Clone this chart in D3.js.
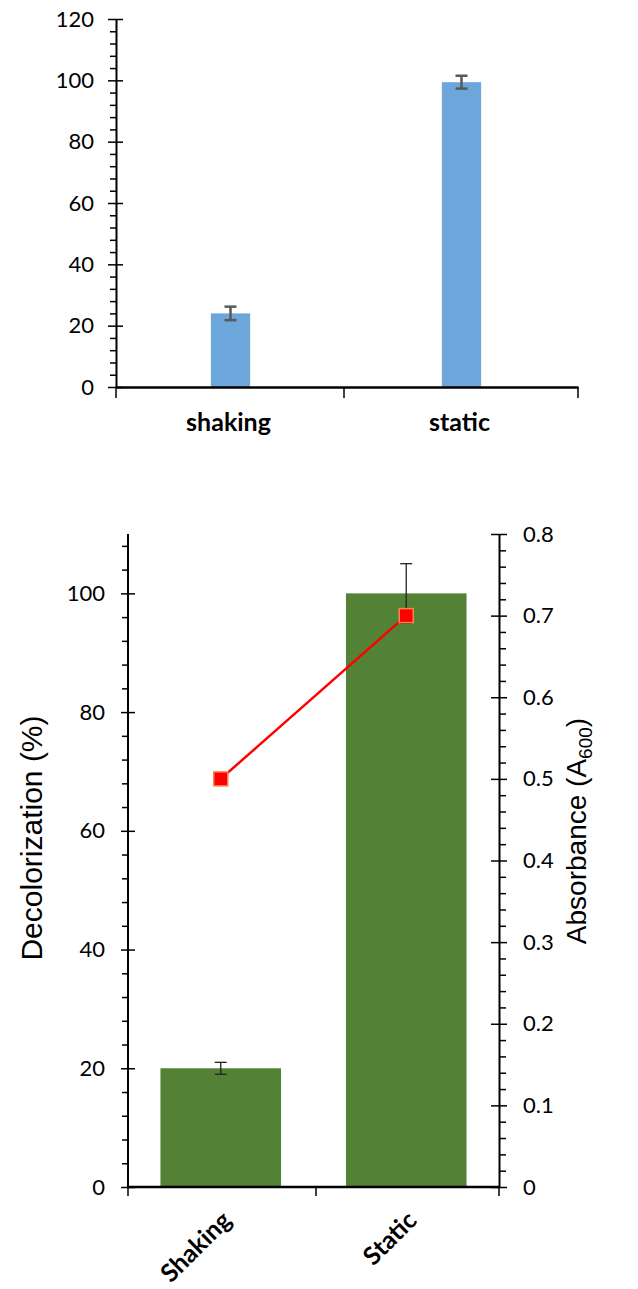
<!DOCTYPE html>
<html>
<head>
<meta charset="utf-8">
<script src="https://cdn.jsdelivr.net/npm/d3@7"></script>
<style>
  body { margin: 0; background: #fff; }
  svg { display: block; }
  .tick text { font-family: Lato, "Open Sans", sans-serif; }
</style>
</head>
<body>
<div id="chart"></div>
<script>
// top chart data
const topCategories = ["shaking", "static"]
const topValues = [24, 99.4]
const topErrors = [2.2, 2.1]
const topTicks = [0, 20, 40, 60, 80, 100, 120]

// bottom chart data
const categories = ["Shaking", "Static"]
const decolorization = [20, 100]
const decolorizationErr = [1, 5]
const absorbance = [0.5, 0.7]
const leftTicks = [0, 20, 40, 60, 80, 100]
const rightTicks = [0, 0.1, 0.2, 0.3, 0.4, 0.5, 0.6, 0.7, 0.8]

const svg = d3.select("#chart")
    .append("svg")
    .attr("width", 638)
    .attr("height", 1289)

const tickFont = "Lato, 'Open Sans', sans-serif"
const titleFont = "'Liberation Sans', Arial, sans-serif"

// ---------- top chart ----------
var yTop = d3.scaleLinear().domain([0, 120]).range([387, 19])
var xTop = d3.scaleBand().domain(topCategories).range([116, 578])

// minor ticks (outside only)
var minorTop = d3.range(0, 121, 4).filter(d => d % 20 !== 0)
svg.append("g")
    .attr("transform", "translate(116,0)")
    .call(d3.axisLeft(yTop).tickValues(minorTop).tickSize(6).tickFormat(""))
    .call(g => g.select(".domain").remove())
    .selectAll("line").attr("stroke", "#000").attr("stroke-width", 1.5)

var topAxis = svg.append("g")
    .attr("transform", "translate(116,0)")
    .call(d3.axisLeft(yTop).tickValues(topTicks).tickSizeInner(8).tickSizeOuter(0).tickPadding(14))
topAxis.select(".domain").attr("stroke-width", 2)
topAxis.selectAll(".tick line").attr("x1", 7).attr("stroke-width", 1.5)
topAxis.selectAll(".tick text").attr("font-size", 22).attr("fill", "#000")

// bars
var topBarW = xTop.bandwidth() * 0.17
svg.selectAll("rect.topbar")
    .data(topValues)
    .enter()
    .append("rect")
    .attr("class", "topbar")
    .attr("x", (d, i) => xTop(topCategories[i]) + xTop.bandwidth() / 2 - topBarW / 2 - 1)
    .attr("y", d => yTop(d))
    .attr("width", topBarW)
    .attr("height", d => yTop(0) - yTop(d))
    .attr("fill", "#6ca6db")

// error bars
topValues.forEach(function (v, i) {
    var cx = xTop(topCategories[i]) + xTop.bandwidth() / 2 - 1
    var g = svg.append("g").attr("stroke", "#595959").attr("stroke-width", 2.5)
    g.append("line").attr("x1", cx).attr("x2", cx)
        .attr("y1", yTop(v + topErrors[i])).attr("y2", yTop(v - topErrors[i]))
    g.append("line").attr("x1", cx - 6).attr("x2", cx + 6)
        .attr("y1", yTop(v + topErrors[i])).attr("y2", yTop(v + topErrors[i]))
    g.append("line").attr("x1", cx - 6).attr("x2", cx + 6)
        .attr("y1", yTop(v - topErrors[i])).attr("y2", yTop(v - topErrors[i]))
})

// x axis
var topX = svg.append("g")
    .attr("transform", "translate(0,387)")
    .call(d3.axisBottom(xTop).tickSizeInner(0).tickSizeOuter(0).tickPadding(26))
topX.select(".domain").attr("stroke-width", 2.5)
topX.selectAll(".tick text")
    .attr("font-size", 25).attr("font-weight", "bold").attr("fill", "#000")
    .attr("dx", -3)
svg.append("g").attr("stroke", "#000").attr("stroke-width", 1.5)
    .selectAll("line")
    .data([116, 344, 578])
    .enter()
    .append("line")
    .attr("x1", d => d).attr("x2", d => d)
    .attr("y1", 387).attr("y2", 398)

// ---------- bottom chart ----------
var yL = d3.scaleLinear().domain([0, 110]).range([1187, 534])
var yR = d3.scaleLinear().domain([0, 0.8]).range([1187, 534])
var x = d3.scaleBand().domain(categories).range([128, 499])

// left minor ticks
var minorL = d3.range(0, 110, 4).filter(d => d % 20 !== 0)
svg.append("g")
    .attr("transform", "translate(128,0)")
    .call(d3.axisLeft(yL).tickValues(minorL).tickSize(6).tickFormat(""))
    .call(g => g.select(".domain").remove())
    .selectAll("line").attr("stroke", "#000").attr("stroke-width", 1.5)

var leftAxis = svg.append("g")
    .attr("transform", "translate(128,0)")
    .call(d3.axisLeft(yL).tickValues(leftTicks).tickSizeInner(7).tickSizeOuter(0).tickPadding(16))
leftAxis.select(".domain").attr("stroke-width", 2).attr("d", "M0," + yL(0) + "V" + yL(110))
leftAxis.selectAll(".tick line").attr("x1", 7).attr("stroke-width", 1.5)
leftAxis.selectAll(".tick text").attr("font-size", 22).attr("fill", "#000")

// right minor ticks
var minorR = d3.range(0, 41).map(d => d * 0.02).filter((d, i) => i % 5 !== 0)
svg.append("g")
    .attr("transform", "translate(499,0)")
    .call(d3.axisRight(yR).tickValues(minorR).tickSize(7).tickFormat(""))
    .call(g => g.select(".domain").remove())
    .selectAll("line").attr("stroke", "#000").attr("stroke-width", 1.5)

var rightAxis = svg.append("g")
    .attr("transform", "translate(499,0)")
    .call(d3.axisRight(yR).tickValues(rightTicks).tickSizeInner(8).tickSizeOuter(0).tickPadding(16)
        .tickFormat(d => d === 0 ? "0" : d3.format(".1f")(d)))
rightAxis.select(".domain").attr("stroke-width", 2)
rightAxis.selectAll(".tick line").attr("x1", -8).attr("stroke-width", 1.5)
rightAxis.selectAll(".tick text").attr("font-size", 22).attr("fill", "#000")

// bars
var barW = x.bandwidth() * 0.65
svg.selectAll("rect.bar")
    .data(decolorization)
    .enter()
    .append("rect")
    .attr("class", "bar")
    .attr("x", (d, i) => x(categories[i]) + x.bandwidth() / 2 - barW / 2)
    .attr("y", d => yL(d))
    .attr("width", barW)
    .attr("height", d => yL(0) - yL(d))
    .attr("fill", "#538135")

// bar error bars
decolorization.forEach(function (v, i) {
    var cx = x(categories[i]) + x.bandwidth() / 2
    var g = svg.append("g").attr("stroke", "#222").attr("stroke-width", 1.3)
    g.append("line").attr("x1", cx).attr("x2", cx)
        .attr("y1", yL(v + decolorizationErr[i])).attr("y2", yL(v - decolorizationErr[i]))
    g.append("line").attr("x1", cx - 6).attr("x2", cx + 6)
        .attr("y1", yL(v + decolorizationErr[i])).attr("y2", yL(v + decolorizationErr[i]))
    g.append("line").attr("x1", cx - 6).attr("x2", cx + 6)
        .attr("y1", yL(v - decolorizationErr[i])).attr("y2", yL(v - decolorizationErr[i]))
})

// absorbance line
var line = d3.line()
    .x((d, i) => x(categories[i]) + x.bandwidth() / 2)
    .y(d => yR(d))
svg.append("path")
    .datum(absorbance)
    .attr("d", line)
    .attr("fill", "none")
    .attr("stroke", "#ff0000")
    .attr("stroke-width", 2.5)

svg.selectAll("rect.marker")
    .data(absorbance)
    .enter()
    .append("rect")
    .attr("class", "marker")
    .attr("x", (d, i) => x(categories[i]) + x.bandwidth() / 2 - 7)
    .attr("y", d => yR(d) - 7)
    .attr("width", 14)
    .attr("height", 14)
    .attr("fill", "#ff0000")
    .attr("stroke", "#f7844a")
    .attr("stroke-width", 1.5)

// x axis
svg.append("line")
    .attr("x1", 128).attr("x2", 499)
    .attr("y1", 1187).attr("y2", 1187)
    .attr("stroke", "#000").attr("stroke-width", 2.5)
svg.append("g").attr("stroke", "#000").attr("stroke-width", 1.5)
    .selectAll("line")
    .data([128, 316, 499])
    .enter()
    .append("line")
    .attr("x1", d => d).attr("x2", d => d)
    .attr("y1", 1187).attr("y2", 1196)

svg.selectAll("text.cat")
    .data(categories)
    .enter()
    .append("text")
    .attr("class", "cat")
    .attr("transform", d => "translate(" + (x(d) + x.bandwidth() / 2 + 12) + ",1222) rotate(-45)")
    .attr("text-anchor", "end")
    .attr("font-family", tickFont)
    .attr("font-weight", "bold")
    .attr("font-size", 25)
    .text(d => d)

// axis titles
svg.append("text")
    .attr("transform", "translate(42,838) rotate(-90)")
    .attr("text-anchor", "middle")
    .attr("font-family", titleFont)
    .attr("font-size", 30)
    .text("Decolorization (%)")

var rt = svg.append("text")
    .attr("transform", "translate(586,831) rotate(-90)")
    .attr("text-anchor", "middle")
    .attr("font-family", titleFont)
    .attr("font-size", 28)
rt.append("tspan").text("Absorbance (A")
rt.append("tspan").attr("font-size", 19).attr("dy", 6).text("600")
rt.append("tspan").attr("dy", -6).text(")")
</script>
</body>
</html>
